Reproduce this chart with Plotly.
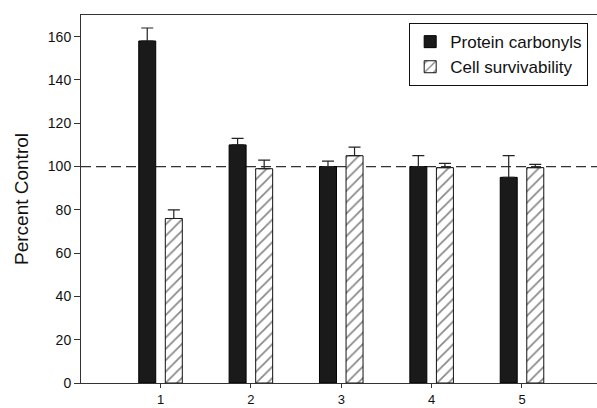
import plotly.graph_objects as go

groups = [1, 2, 3, 4, 5]
tick_labels = ["1", "2", "3", "4", "5"]
carbonyls = [158, 110, 100, 100, 95]
carbonyls_err = [6, 3, 2.5, 5, 10]
survival = [76, 99, 105, 99.5, 99.5]
survival_err = [4, 4, 4, 2, 1.5]

fig = go.Figure()
fig.add_trace(go.Bar(
    x=groups, y=carbonyls, name="Protein carbonyls",
    width=0.188, offset=-0.241,
    marker=dict(color="#1a1a1a", line=dict(color="#000", width=1)),
    error_y=dict(type="data", symmetric=False, array=carbonyls_err,
                 arrayminus=[0]*5, color="#222", thickness=1.2, width=6),
))
fig.add_trace(go.Bar(
    x=groups, y=survival, name="Cell survivability",
    width=0.188, offset=0.053,
    marker=dict(color="white", line=dict(color="#111", width=1),
                pattern=dict(shape="/", fgcolor="#111", bgcolor="white",
                             size=8, solidity=0.22)),
    error_y=dict(type="data", symmetric=False, array=survival_err,
                 arrayminus=[0]*5, color="#222", thickness=1.2, width=6),
))

fig.add_shape(type="line", xref="paper", x0=0, x1=1, yref="y", y0=100, y1=100,
              line=dict(color="#333", width=1.2, dash="10px,5px"), layer="below")

fig.update_layout(
    width=597, height=408,
    margin=dict(l=81, r=0, t=15, b=25),
    paper_bgcolor="white", plot_bgcolor="white",
    barmode="overlay",
    font=dict(family="Arial, Liberation Sans, sans-serif", color="#111"),
    showlegend=True,
    legend=dict(x=0.636, y=0.978, xanchor="left", yanchor="top",
                bordercolor="#111", borderwidth=1, bgcolor="white",
                font=dict(size=17), tracegroupgap=0, itemwidth=30),
    xaxis=dict(range=[0.12, 5.83], tickmode="array", tickvals=groups,
               ticktext=tick_labels, ticks="outside", ticklen=4,
               tickcolor="#333", showline=True, linecolor="#333",
               linewidth=1, mirror=True, showgrid=False, zeroline=False,
               tickfont=dict(size=13), ticklabelstandoff=0, automargin=False),
    yaxis=dict(range=[0, 170], tickvals=[0, 20, 40, 60, 80, 100, 120, 140, 160],
               ticks="outside", ticklen=6, tickcolor="#333",
               showline=True, linecolor="#333", linewidth=1,
               showgrid=False, zeroline=False, tickfont=dict(size=14),
               automargin=False,
               title=dict(text="Percent Control", font=dict(size=19), standoff=14)),
)

fig.write_html("out.html", config={"displayModeBar": False},
               post_script="document.body.style.margin='0';document.body.style.overflow='hidden';")
